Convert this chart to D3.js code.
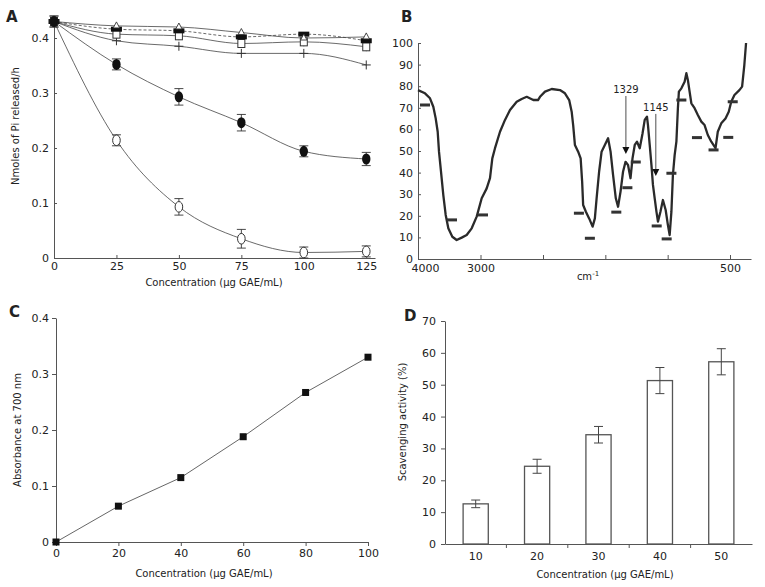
<!DOCTYPE html>
<html><head><meta charset="utf-8">
<script src="https://cdn.jsdelivr.net/npm/d3@7"></script>
<style>
body{margin:0;background:#fff}
text{font-family:"DejaVu Sans",Verdana,sans-serif;fill:#222}
</style>
</head><body><script>
// ---------- Panel A data ----------
const concA = [0,25,50,75,100,125];
const openCircle = [0.43,0.214,0.093,0.035,0.010,0.012];
const openCircleErr = [0.01,0.010,0.015,0.017,0.010,0.010];
const filledCircle = [0.43,0.352,0.293,0.246,0.194,0.180];
const filledCircleErr = [0.01,0.010,0.015,0.015,0.010,0.012];
const plusSeries = [0.43,0.395,0.385,0.372,0.372,0.351];
const openSquare = [0.43,0.407,0.404,0.390,0.393,0.384];
const openSquareErr = [0.01,0.010,0.008,0.008,0.008,0.008];
const filledRect = [0.43,0.416,0.413,0.402,0.407,0.395];
const openTriangle = [0.43,0.422,0.420,0.410,0.400,0.402];
const yTicksA = [0,0.1,0.2,0.3,0.4];

// ---------- Panel B data (IR spectrum) ----------
const specWn = [4000,3888,3808,3755,3717,3685,3664,3632,3595,3557,
 3515,3451,3381,3301,3221,3141,3061,2981,2901,2848,
 2811,2768,2688,2608,2528,2421,2341,2261,2155,2080,
 2048,1984,1930,1864,1824,1790,1770,1758,1744,1718,
 1698,1686,1678,1656,1630,1602,1584,1570,1550,1530,
 1504,1478,1458,1438,1416,1398,1378,1358,1338,1318,
 1298,1282,1264,1246,1224,1202,1184,1166,1158,1144,
 1130,1118,1104,1090,1078,1058,1038,1016,998,984,
 970,958,944,930,918,910,890,864,850,838,
 824,810,784,758,730,704,678,650,616,598,
 570,536,510,490,464,424,402,384,370];
const specT = [78.2,76.7,74.4,70.5,65.1,58.9,49.7,40.4,29.6,20.4,
 14.2,10.3,8.8,9.9,11.1,14.2,19.6,28.1,32.7,37.4,
 46.6,51.3,58.9,64.4,69.0,72.8,74.1,75.1,73.6,73.6,
 75.1,77.5,78.7,78.2,76.7,73.6,68.2,62.0,52.8,49.7,
 46.6,35.8,25.0,21.9,18.8,15.0,18.8,28.1,40.4,49.7,
 52.8,55.9,49.7,38.9,28.1,24.2,31.2,40.4,45.0,43.5,
 37.4,46.6,52.8,54.3,51.3,58.0,64.4,65.9,62.0,52.8,
 43.5,34.3,28.1,21.9,17.3,21.9,27.3,22.7,15.7,11.1,
 21.9,38.9,48.1,54.3,69.8,77.5,79.0,82.1,86.0,82.9,
 77.5,72.1,69.8,66.7,63.6,62.0,57.4,54.3,51.3,58.9,
 62.8,65.1,68.2,72.8,75.9,78.2,79.8,89.8,100];
const peakMarkWn = [3888,3456,2960,1712,1624,1412,1323,1256,1088,1008,970,890,765,632,514,478];
const peakMarkT  = [71.3,18.1,20.4,21.2,9.6,21.7,33.0,44.9,15.3,9.3,39.7,73.6,56.2,50.5,56.3,72.8];
const annText = ["1329","1145"];
const annWn = [1335,1095];
const annLabelT = [78.7,70.4];
const annTipT = [48.6,38.4];
const xTicksB = [4000,3000,2000,1500,1000,500];
const xTickLabelsB = ["4000","3000","","","","500"];
const yTicksB = [0,10,20,30,40,50,60,70,80,90,100];

// ---------- Panel C data ----------
const concC = [0,20,40,60,80,100];
const absorbance = [0,0.064,0.115,0.188,0.267,0.330];
const yTicksC = [0,0.1,0.2,0.3,0.4];

// ---------- Panel D data ----------
const concD = ["10","20","30","40","50"];
const scavenging = [12.6,24.4,34.3,51.3,57.2];
const scavengingErr = [1.2,2.2,2.6,4.1,4.1];
const yTicksD = [0,10,20,30,40,50,60,70];

const svg = d3.select("body").append("svg").attr("width",765).attr("height",587);
const axisColor = "#555";
function styleAxis(g){
  g.select(".domain").attr("stroke",axisColor).attr("stroke-width",1);
  g.selectAll(".tick line").attr("stroke",axisColor);
  g.selectAll(".tick text").attr("font-size",11).attr("fill","#222")
   .attr("font-family",'"DejaVu Sans",Verdana,sans-serif');
}
function panelLabel(t,x,y){
  svg.append("text").attr("x",x).attr("y",y).attr("font-size",15).attr("font-weight","bold").text(t);
}
function yTitle(t,x,y){
  svg.append("text").attr("transform",`translate(${x},${y}) rotate(-90)`)
    .attr("text-anchor","middle").attr("font-size",10).text(t);
}
function xTitle(t,x,y){
  svg.append("text").attr("x",x).attr("y",y).attr("text-anchor","middle").attr("font-size",10).text(t);
}

// ================= Panel A =================
{
  const x = d3.scaleLinear().domain([0,128.5]).range([54,375]);
  const y = d3.scaleLinear().domain([0,0.44]).range([258,16]);
  const gA = svg.append("g");
  gA.append("g").attr("transform","translate(0,258)")
    .call(d3.axisBottom(x).tickValues(concA).tickSizeInner(-3).tickSizeOuter(0).tickPadding(4))
    .call(styleAxis);
  gA.append("g").attr("transform","translate(54,0)")
    .call(d3.axisLeft(y).tickValues(yTicksA).tickSizeInner(-3).tickSizeOuter(0).tickPadding(5)
      .tickFormat(d=>d===0?"0":d3.format(".1f")(d)))
    .call(styleAxis);

  const line = d3.line().x((d,i)=>x(concA[i])).y(d=>y(d)).curve(d3.curveMonotoneX);
  const lines = [[openCircle,null],[filledCircle,null],[plusSeries,null],[openSquare,null],[filledRect,"3,2"],[openTriangle,null]];
  lines.forEach(([s,dash])=>{
    gA.append("path").attr("d",line(s)).attr("fill","none").attr("stroke","#444")
      .attr("stroke-width",0.8).attr("stroke-dasharray",dash);
  });
  function errBars(s,e,cap){
    s.forEach((v,i)=>{
      const cx = x(concA[i]);
      gA.append("line").attr("x1",cx).attr("x2",cx).attr("y1",y(v+e[i])).attr("y2",y(v-e[i])).attr("stroke","#333").attr("stroke-width",0.9);
      [v+e[i],v-e[i]].forEach(w=>gA.append("line").attr("x1",cx-cap).attr("x2",cx+cap).attr("y1",y(w)).attr("y2",y(w)).attr("stroke","#333").attr("stroke-width",0.9));
    });
  }
  errBars(openCircle,openCircleErr,4.5);
  errBars(filledCircle,filledCircleErr,4.5);
  errBars(openSquare,openSquareErr,0);

  plusSeries.forEach((v,i)=>{
    gA.append("path").attr("d",`M${x(concA[i])-4.5},${y(v)}h9M${x(concA[i])},${y(v)-4.5}v9`).attr("stroke","#333").attr("stroke-width",1);
  });
  openSquare.forEach((v,i)=>{
    gA.append("rect").attr("x",x(concA[i])-3.5).attr("y",y(v)-4).attr("width",7).attr("height",8)
      .attr("fill","#fff").attr("stroke","#333").attr("stroke-width",1);
  });
  filledRect.forEach((v,i)=>{
    gA.append("rect").attr("x",x(concA[i])-5.5).attr("y",y(v)-2.5).attr("width",11).attr("height",5).attr("fill","#111");
  });
  openTriangle.forEach((v,i)=>{
    const cx=x(concA[i]), cy=y(v);
    gA.append("path").attr("d",`M${cx},${cy-4}L${cx+3.2},${cy+2}L${cx-3.2},${cy+2}Z`)
      .attr("fill","#fff").attr("stroke","#333").attr("stroke-width",0.9);
  });
  openCircle.forEach((v,i)=>{
    gA.append("ellipse").attr("cx",x(concA[i])).attr("cy",y(v)).attr("rx",3.8).attr("ry",5.3)
      .attr("fill","#fff").attr("stroke","#333").attr("stroke-width",1);
  });
  filledCircle.forEach((v,i)=>{
    gA.append("ellipse").attr("cx",x(concA[i])).attr("cy",y(v)).attr("rx",4.2).attr("ry",5.5).attr("fill","#111");
  });
  panelLabel("A",6,22);
  yTitle("Nmoles of Pi released/h",19,126);
  xTitle("Concentration (\u03bcg GAE/mL)",214,286);
}

// ================= Panel B =================
{
  const x = d3.scaleLinear().domain([4000,2000,500,330]).range([418,543,730,751]);
  const y = d3.scaleLinear().domain([0,100]).range([259,43]);
  const gB = svg.append("g");
  gB.append("g").attr("transform","translate(0,259)")
    .call(d3.axisBottom(x).tickValues(xTicksB).tickSizeInner(-4).tickSizeOuter(0).tickPadding(5)
      .tickFormat((d,i)=>xTickLabelsB[i]))
    .call(styleAxis)
    .call(g=>g.selectAll(".tick text").filter(d=>d===4000).attr("dx",7));
  gB.append("g").attr("transform","translate(418,0)")
    .call(d3.axisLeft(y).tickValues(yTicksB).tickSizeInner(-3).tickSizeOuter(0).tickPadding(5))
    .call(styleAxis);
  const line = d3.line().x(d=>x(d[0])).y(d=>y(d[1]));
  gB.append("path").attr("d",line(d3.zip(specWn,specT))).attr("fill","none")
    .attr("stroke","#2a2a2a").attr("stroke-width",2.3).attr("stroke-linejoin","round");
  peakMarkWn.forEach((w,i)=>{
    gB.append("rect").attr("x",x(w)-5).attr("y",y(peakMarkT[i])-1.5).attr("width",10).attr("height",3).attr("fill","#333");
  });
  annText.forEach((t,i)=>{
    const ax = x(annWn[i]);
    gB.append("text").attr("x",ax).attr("y",y(annLabelT[i])+4).attr("text-anchor","middle").attr("font-size",10).text(t);
    gB.append("line").attr("x1",ax).attr("x2",ax).attr("y1",y(annLabelT[i])+7).attr("y2",y(annTipT[i])-5)
      .attr("stroke","#222").attr("stroke-width",0.8);
    gB.append("path").attr("d",`M${ax-3.5},${y(annTipT[i])-7}L${ax+3.5},${y(annTipT[i])-7}L${ax},${y(annTipT[i])}Z`).attr("fill","#111");
  });
  panelLabel("B",401,22);
  const t = svg.append("text").attr("x",588).attr("y",280).attr("text-anchor","middle").attr("font-size",10);
  t.append("tspan").text("cm");
  t.append("tspan").attr("dy",-4).attr("font-size",7).text("-1");
}

// ================= Panel C =================
{
  const x = d3.scaleLinear().domain([0,100]).range([56,368]);
  const y = d3.scaleLinear().domain([0,0.4]).range([542,318]);
  const gC = svg.append("g");
  gC.append("g").attr("transform","translate(0,542)")
    .call(d3.axisBottom(x).tickValues(concC).tickSizeInner(4).tickSizeOuter(0).tickPadding(3))
    .call(styleAxis);
  gC.append("g").attr("transform","translate(56,0)")
    .call(d3.axisLeft(y).tickValues(yTicksC).tickSizeInner(4).tickSizeOuter(0).tickPadding(3)
      .tickFormat(d=>d===0?"0":d3.format(".1f")(d)))
    .call(styleAxis);
  const line = d3.line().x((d,i)=>x(concC[i])).y(d=>y(d));
  gC.append("path").attr("d",line(absorbance)).attr("fill","none").attr("stroke","#555").attr("stroke-width",0.9);
  absorbance.forEach((v,i)=>{
    gC.append("rect").attr("x",x(concC[i])-3.5).attr("y",y(v)-3.5).attr("width",7).attr("height",7).attr("fill","#111");
  });
  panelLabel("C",9,317);
  yTitle("Absorbance at 700 nm",21,430);
  xTitle("Concentration (\u03bcg GAE/mL)",204,577);
}

// ================= Panel D =================
{
  const x = d3.scaleBand().domain(concD).range([445,752]).paddingInner(0.59).paddingOuter(0.295);
  const y = d3.scaleLinear().domain([0,70]).range([544,321]);
  const gD = svg.append("g");
  gD.append("g").attr("transform","translate(0,544)")
    .call(d3.axisBottom(x).tickSizeInner(0).tickSizeOuter(0).tickPadding(8))
    .call(styleAxis);
  const gap = (x.step()-x.bandwidth())/2;
  concD.slice(1).forEach(c=>{
    const bx = x(c)-gap;
    gD.append("line").attr("x1",bx).attr("x2",bx).attr("y1",544).attr("y2",548).attr("stroke",axisColor);
  });
  gD.append("g").attr("transform","translate(445,0)")
    .call(d3.axisLeft(y).tickValues(yTicksD).tickSizeInner(4).tickSizeOuter(0).tickPadding(5))
    .call(styleAxis);
  scavenging.forEach((v,i)=>{
    gD.append("rect").attr("x",x(concD[i])).attr("y",y(v)).attr("width",x.bandwidth()).attr("height",y(0)-y(v))
      .attr("fill","#fff").attr("stroke","#555").attr("stroke-width",1.3);
    const cx = x(concD[i])+x.bandwidth()/2;
    gD.append("line").attr("x1",cx).attr("x2",cx).attr("y1",y(v+scavengingErr[i])).attr("y2",y(v-scavengingErr[i])).attr("stroke","#444");
    [v+scavengingErr[i],v-scavengingErr[i]].forEach(w=>gD.append("line").attr("x1",cx-4.5).attr("x2",cx+4.5).attr("y1",y(w)).attr("y2",y(w)).attr("stroke","#444"));
  });
  panelLabel("D",404,321);
  yTitle("Scavenging activity (%)",406,422);
  xTitle("Concentration (\u03bcg GAE/mL)",605,578);
}
</script></body></html>
